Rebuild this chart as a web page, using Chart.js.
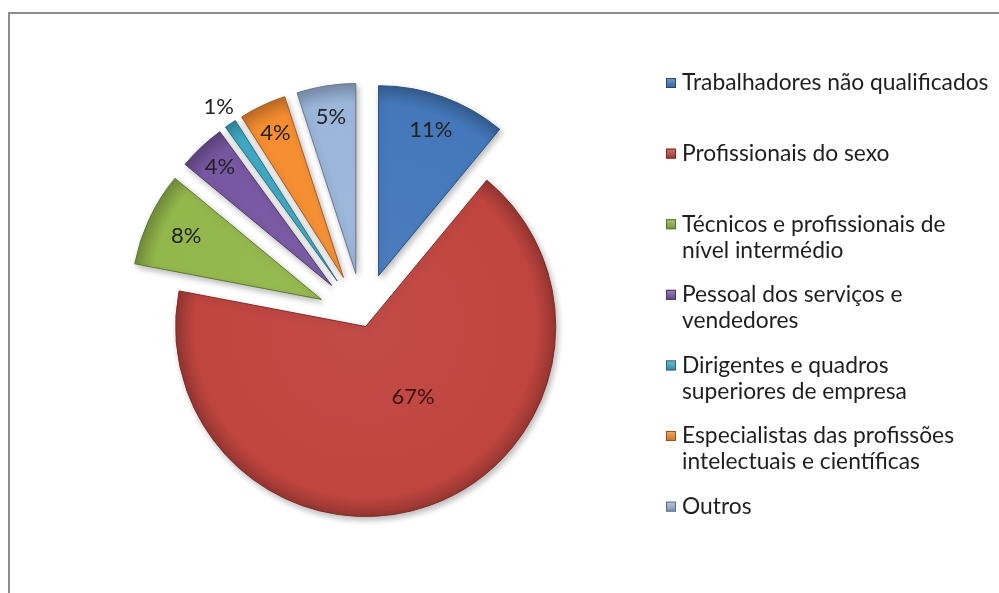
<!DOCTYPE html>
<html><head><meta charset="utf-8">
<script src="https://cdn.jsdelivr.net/npm/chart.js@4.4.1/dist/chart.umd.min.js"></script>
<style>
html,body{margin:0;padding:0;background:#fff;overflow:hidden;width:999px;height:593px;}
#frame{position:absolute;left:8px;top:12px;width:1100px;height:700px;border:2px solid #8c8c8c;box-sizing:border-box;}
#c{position:absolute;left:0;top:0;}
</style></head><body>
<div id="frame"></div>
<canvas id="c" width="999" height="593"></canvas>
<script>
// ---- data ----
const categories = [
  'Trabalhadores não qualificados',
  'Profissionais do sexo',
  'Técnicos e profissionais de nível intermédio',
  'Pessoal dos serviços e vendedores',
  'Dirigentes e quadros superiores de empresa',
  'Especialistas das profissões intelectuais e científicas',
  'Outros'
];
const legendLines = [
  ['Trabalhadores não qualificados'],
  ['Profissionais do sexo'],
  ['Técnicos e profissionais de', 'nível intermédio'],
  ['Pessoal dos serviços e', 'vendedores'],
  ['Dirigentes e quadros', 'superiores de empresa'],
  ['Especialistas das profissões', 'intelectuais e científicas'],
  ['Outros']
];
const values = [11, 67, 8, 4, 1, 4, 5];
const percentLabels = ['11%', '67%', '8%', '4%', '1%', '4%', '5%'];

// ---- styles / layout ----
const colors = ['#4478BB', '#C0453F', '#93B74B', '#7757A1', '#40AAC6', '#F68D30', '#9BB6DA'];
const RADIUS = 190;
const EXPLODE = [46, 8, 46, 46, 46, 46, 46];
const LABEL_FRAC = [0.813, 0.447, 0.787, 0.857, 1.11, 0.84, 0.834];
const LABEL_SHIFT = [0, -14.1, 0, 0, 0, 0, 0];
const FONT = 'Lato, "Open Sans", sans-serif';

function adjust(hex, f) {
  const n = parseInt(hex.slice(1), 16);
  let r = (n >> 16) & 255, g = (n >> 8) & 255, b = n & 255;
  if (f < 1) { r *= f; g *= f; b *= f; }
  else { const t = f - 1; r += (255 - r) * t; g += (255 - g) * t; b += (255 - b) * t; }
  return 'rgb(' + Math.round(r) + ',' + Math.round(g) + ',' + Math.round(b) + ')';
}

function sliceCenter(chart, i) {
  const ca = chart.chartArea;
  const total = values.reduce((a, b) => a + b, 0);
  let before = 0;
  for (let j = 0; j < i; j++) before += values[j];
  const start = -Math.PI / 2 + before / total * Math.PI * 2;
  const end = start + values[i] / total * Math.PI * 2;
  const mid = (start + end) / 2;
  return {
    x: (ca.left + ca.right) / 2 + Math.cos(mid) * EXPLODE[i],
    y: (ca.top + ca.bottom) / 2 + Math.sin(mid) * EXPLODE[i]
  };
}

const explodePlugin = {
  id: 'explode',
  afterDatasetsUpdate(chart) {
    const meta = chart.getDatasetMeta(0);
    meta.data.forEach((el, i) => {
      const mid = (el.startAngle + el.endAngle) / 2;
      el.x += Math.cos(mid) * EXPLODE[i];
      el.y += Math.sin(mid) * EXPLODE[i];
    });
  },
  beforeDatasetsDraw(chart) {
    const c = chart.ctx;
    c.save();
    c.shadowColor = 'rgba(0,0,0,0.28)';
    c.shadowBlur = 6;
    c.shadowOffsetX = 2;
    c.shadowOffsetY = 3;
  },
  afterDatasetsDraw(chart) {
    const c = chart.ctx;
    c.restore();
    const meta = chart.getDatasetMeta(0);
    c.save();
    c.font = '22px ' + FONT;
    c.textAlign = 'center';
    c.textBaseline = 'middle';
    meta.data.forEach((el, i) => {
      const mid = (el.startAngle + el.endAngle) / 2 + LABEL_SHIFT[i] * Math.PI / 180;
      const r = el.outerRadius * LABEL_FRAC[i];
      c.fillStyle = i === 1 ? '#3a1212' : '#222222';
      c.fillText(percentLabels[i], el.x + Math.cos(mid) * r, el.y + Math.sin(mid) * r);
    });
    c.restore();
  },
  afterDraw(chart) {
    const c = chart.ctx;
    c.save();
    c.font = '100px ' + FONT;
    const w100 = c.measureText(legendLines[0][0]).width;
    const fs = Math.round(100 * 306 / w100 * 10) / 10;
    c.font = fs + 'px ' + FONT;
    c.textBaseline = 'middle';
    c.textAlign = 'left';
    const top0 = 83, step = 70.6, lineH = 26;
    legendLines.forEach((lines, i) => {
      const y = top0 + i * step;
      const mx = 666, my = y - 5, ms = 10;
      const g = c.createLinearGradient(mx, my, mx, my + ms);
      g.addColorStop(0, adjust(colors[i], 1.25));
      g.addColorStop(1, adjust(colors[i], 0.8));
      c.fillStyle = g;
      c.fillRect(mx, my, ms, ms);
      c.strokeStyle = adjust(colors[i], 0.6);
      c.lineWidth = 1;
      c.strokeRect(mx + 0.5, my + 0.5, ms - 1, ms - 1);
      c.fillStyle = '#1f1f1f';
      lines.forEach((t, k) => c.fillText(t, 682, y + k * lineH));
    });
    c.restore();
  }
};

new Chart(document.getElementById('c'), {
  type: 'pie',
  data: {
    labels: categories,
    datasets: [{
      data: values,
      backgroundColor: (ctx) => {
        const chart = ctx.chart;
        const i = ctx.dataIndex;
        if (!chart.chartArea || i === undefined) return colors[i || 0];
        const p = sliceCenter(chart, i);
        const g = chart.ctx.createRadialGradient(p.x, p.y, 0, p.x, p.y, RADIUS);
        g.addColorStop(0, adjust(colors[i], 1.04));
        g.addColorStop(0.9, colors[i]);
        g.addColorStop(1, adjust(colors[i], 0.78));
        return g;
      },
      borderColor: colors.map(c => adjust(c, 0.65)),
      borderWidth: 1
    }]
  },
  options: {
    responsive: false,
    animation: false,
    events: [],
    radius: RADIUS,
    layout: { padding: { left: 10, right: 283, top: 100, bottom: 55 } },
    plugins: { legend: { display: false }, tooltip: { enabled: false } }
  },
  plugins: [explodePlugin]
});
</script>
</body></html>
